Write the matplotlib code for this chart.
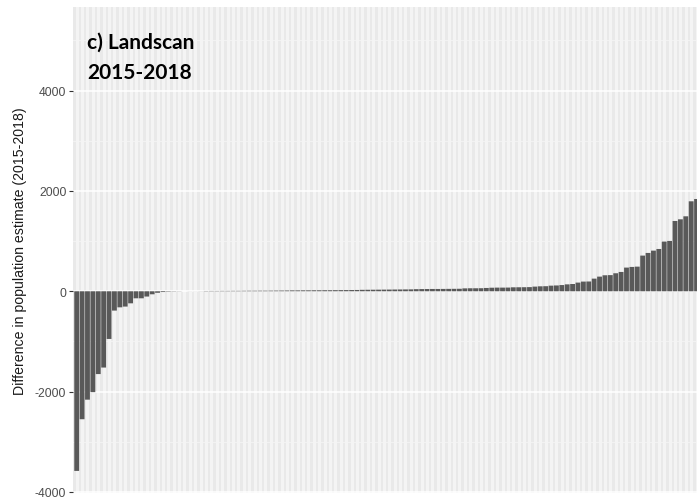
# Landscan 2015-2018 population difference bar chart
import numpy as np
import matplotlib.pyplot as plt

# Data, sorted differences per area
negative = [-3580, -2550, -2160, -2010, -1650, -1520, -950, -385, -320, -305,
            -240, -140, -140, -105, -60, -30, -15, -8, -5, -3]
zeros = [0, 1, 1, 2]
small = [6, 7, 7, 8, 8, 9, 9, 10,
         11, 11, 12, 12, 13, 14, 15, 16,
         18, 18, 19, 19, 20, 20, 21, 21, 22, 23, 24, 25, 26,
         29, 30, 31, 32, 33, 34, 35, 36, 37, 38,
         42, 44, 45, 46, 46, 47, 48, 49, 50,
         58, 60, 60, 61, 66, 71, 73, 73, 74, 79, 80, 81, 83,
         93, 99, 101, 112, 116]
large = [124, 138, 145, 173, 193, 195, 252, 292, 319, 322, 359, 385, 472, 485,
         491, 711, 764, 810, 843, 990, 1003, 1401, 1434, 1494, 1793, 1839]

values = negative + zeros + small + large
pos = np.arange(len(values))

ytick_vals = [-4000, -2000, 0, 2000, 4000]
ytick_labels = ["-4000", "-2000", "0", "2000", "4000"]

# Figure
fig = plt.figure(figsize=(6.97, 5.02), dpi=100)
ax = fig.add_axes([73.3 / 697, 1 - 493.5 / 502, 1 - 73.3 / 697, (493.5 - 8) / 502])
ax.set_facecolor("#E9E9E9")

# Grid lines: one white line per category, horizontal major and minor lines
for p in pos:
    ax.axvline(p, color="#F4F4F4", linewidth=2.2, zorder=0)
for v in ytick_vals:
    ax.axhline(v, color="white", linewidth=1.1, zorder=0.5)
for v in [-3000, -1000, 1000, 3000, 5000]:
    ax.axhline(v, color="#F4F4F4", linewidth=0.6, zorder=0.5)

# Bars (no snapping, so the very small bars still show faintly)
bars = ax.bar(pos, values, width=0.9, color="#595959", zorder=2)
for b in bars:
    b.set_snap(False)

# Axis limits
ax.set_xlim(-0.63, 115.08)
ax.set_ylim(-4010, 5665)

# Ticks
ax.set_xticks([])
ax.set_yticks(ytick_vals)
ax.set_yticklabels(ytick_labels, color="#4D4D4D", fontsize=8.7, family="Liberation Sans")
ax.tick_params(axis="y", length=3, width=0.8, color="#333333", pad=2)
for s in ax.spines.values():
    s.set_visible(False)

# Axis label
ax.set_ylabel("Difference in population estimate (2015-2018)", fontsize=10.2,
              family="Liberation Sans", color="#1A1A1A", labelpad=6)

# Panel title
ax.text(0.022, 0.917, "c) Landscan", transform=ax.transAxes,
        fontsize=15, fontweight="bold", family="Lato", va="baseline", ha="left")
ax.text(0.022, 0.854, "2015-2018", transform=ax.transAxes,
        fontsize=15, fontweight="bold", family="Lato", va="baseline", ha="left")

plt.savefig("out.png", dpi=100)
